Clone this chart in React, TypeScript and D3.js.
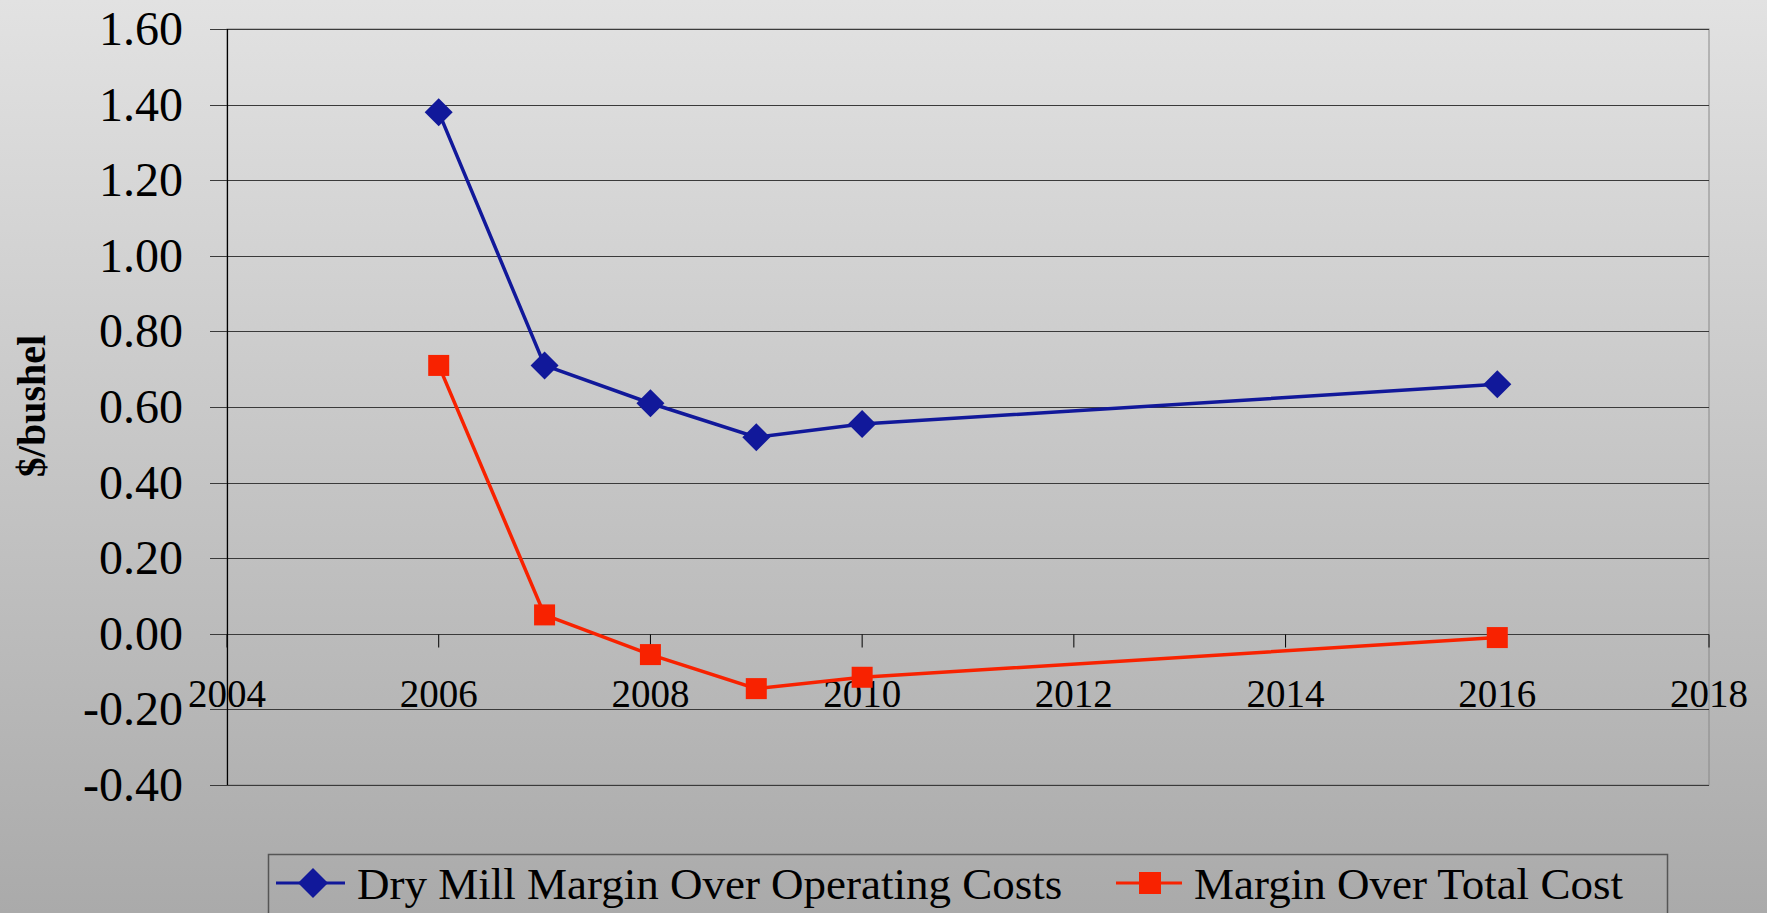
import React, { useEffect, useRef } from 'react';
import * as d3 from 'd3';

const years = [2006, 2007, 2008, 2009, 2010, 2016];
const operatingMargin = [1.38, 0.71, 0.61, 0.52, 0.555, 0.66];
const totalMargin = [0.71, 0.05, -0.055, -0.145, -0.115, -0.01];
const yTicks = [-0.4, -0.2, 0, 0.2, 0.4, 0.6, 0.8, 1.0, 1.2, 1.4, 1.6];
const xTicks = [2004, 2006, 2008, 2010, 2012, 2014, 2016, 2018];
const seriesNames = ['Dry Mill Margin Over Operating Costs', 'Margin Over Total Cost'];

const W = 1767;
const H = 913;
const BLUE = '#11189a';
const RED = '#f82200';
const FONT = '"Liberation Serif", "Times New Roman", serif';

const App = () => {
  const svgRef = useRef<SVGSVGElement>(null);

  useEffect(() => {
    const svg = d3.select(svgRef.current);
    svg.selectAll('*').remove();

    const left = 227, right = 1709, top = 29, bottom = 785;

    const x = d3.scaleLinear().domain([2004, 2018]).range([left, right]);
    const y = d3.scaleLinear().domain([-0.4, 1.6]).range([bottom, top]);

    // background gradient
    const defs = svg.append('defs');
    const grad = defs.append('linearGradient')
      .attr('id', 'bg').attr('x1', 0).attr('y1', 0).attr('x2', 0).attr('y2', 1);
    grad.append('stop').attr('offset', '0%').attr('stop-color', '#e2e2e2');
    grad.append('stop').attr('offset', '100%').attr('stop-color', '#aaaaaa');
    svg.append('rect').attr('width', W).attr('height', H).attr('fill', 'url(#bg)');

    // plot border (top/right)
    svg.append('rect')
      .attr('x', left).attr('y', top)
      .attr('width', right - left).attr('height', bottom - top)
      .attr('fill', 'none').attr('stroke', '#888').attr('stroke-width', 1);

    // gridlines with outward ticks
    svg.append('g').selectAll('line')
      .data(yTicks)
      .join('line')
        .attr('x1', left - 17).attr('x2', right)
        .attr('y1', d => Math.round(y(d)) + 0.5).attr('y2', d => Math.round(y(d)) + 0.5)
        .attr('stroke', '#3a3a3a').attr('stroke-width', 1.2);

    // y axis line
    svg.append('line')
      .attr('x1', left + 0.5).attr('x2', left + 0.5).attr('y1', top).attr('y2', bottom)
      .attr('stroke', '#000').attr('stroke-width', 1.2);

    // y labels
    svg.append('g').selectAll('text')
      .data(yTicks)
      .join('text')
        .attr('x', 183)
        .attr('y', d => y(d) + 16)
        .attr('text-anchor', 'end')
        .style('font-family', FONT)
        .style('font-size', '48px')
        .style('fill', '#000')
        .text(d => d3.format('.2f')(d).replace('−', '-'));

    // x axis ticks at y=0
    const y0 = Math.round(y(0)) + 0.5;
    svg.append('g').selectAll('line')
      .data(xTicks)
      .join('line')
        .attr('x1', d => x(d)).attr('x2', d => x(d))
        .attr('y1', y0).attr('y2', y0 + 13)
        .attr('stroke', '#000').attr('stroke-width', 1);

    svg.append('g').selectAll('text')
      .data(xTicks)
      .join('text')
        .attr('x', d => x(d))
        .attr('y', 707)
        .attr('text-anchor', 'middle')
        .style('font-family', FONT)
        .style('font-size', '39px')
        .style('fill', '#000')
        .text(d => d);

    // y title
    svg.append('text')
      .attr('transform', 'translate(45,406) rotate(-90)')
      .attr('text-anchor', 'middle')
      .style('font-family', FONT)
      .style('font-size', '40px')
      .style('font-weight', 700)
      .style('fill', '#000')
      .text('$/bushel');

    const line = d3.line<number>()
      .x((d, i) => x(years[i]))
      .y(d => y(d));

    // series lines
    svg.append('path')
      .datum(operatingMargin)
      .attr('fill', 'none').attr('stroke', BLUE).attr('stroke-width', 3.5)
      .attr('d', line);
    svg.append('path')
      .datum(totalMargin)
      .attr('fill', 'none').attr('stroke', RED).attr('stroke-width', 3.5)
      .attr('d', line);

    const diamond = (cx: number, cy: number, r = 14) =>
      `M${cx},${cy - r}L${cx + r},${cy}L${cx},${cy + r}L${cx - r},${cy}Z`;

    svg.append('g').selectAll('path')
      .data(operatingMargin)
      .join('path')
        .attr('d', (d, i) => diamond(x(years[i]), y(d)))
        .attr('fill', BLUE);

    svg.append('g').selectAll('rect')
      .data(totalMargin)
      .join('rect')
        .attr('x', (d, i) => x(years[i]) - 10.5)
        .attr('y', d => y(d) - 10.5)
        .attr('width', 21).attr('height', 21)
        .attr('fill', RED);

    // legend
    const lg = svg.append('g');
    lg.append('rect')
      .attr('x', 268.5).attr('y', 854.5)
      .attr('width', 1399).attr('height', 90)
      .attr('fill', 'none').attr('stroke', '#555').attr('stroke-width', 1.5);

    const ly = 883;
    lg.append('line').attr('x1', 276).attr('x2', 345).attr('y1', ly).attr('y2', ly)
      .attr('stroke', BLUE).attr('stroke-width', 3);
    lg.append('path').attr('d', diamond(313, ly, 15)).attr('fill', BLUE);
    lg.append('text')
      .attr('x', 357).attr('y', ly + 16)
      .style('font-family', FONT).style('font-size', '45px').style('fill', '#000')
      .text(seriesNames[0]);

    lg.append('line').attr('x1', 1116).attr('x2', 1182).attr('y1', ly).attr('y2', ly)
      .attr('stroke', RED).attr('stroke-width', 3);
    lg.append('rect').attr('x', 1139).attr('y', ly - 11).attr('width', 22).attr('height', 22)
      .attr('fill', RED);
    lg.append('text')
      .attr('x', 1194).attr('y', ly + 16)
      .style('font-family', FONT).style('font-size', '45px').style('fill', '#000')
      .text(seriesNames[1]);
  }, []);

  return (
    <svg
      ref={svgRef}
      width={W}
      height={H}
      style={{ position: 'absolute', left: 0, top: 0, display: 'block' }}
    />
  );
};

export default App;
